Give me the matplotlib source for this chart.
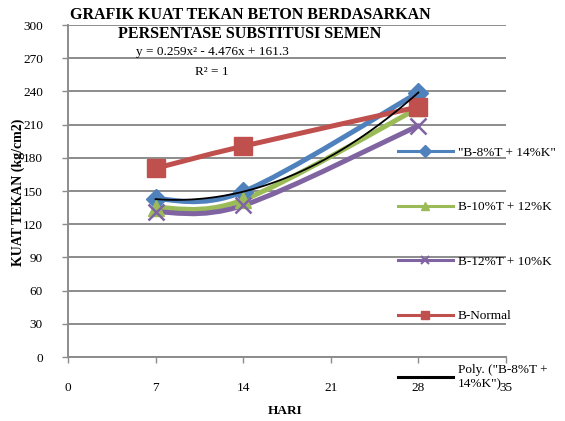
import numpy as np
import matplotlib

matplotlib.use("Agg")
import matplotlib.pyplot as plt
from matplotlib.lines import Line2D
from matplotlib.path import Path
from matplotlib.patches import PathPatch

# data
days = [7, 14, 28]
b8_t14_k = [142.7, 149.4, 239.0]
b10_t12_k = [135.0, 142.0, 225.0]
b12_t10_k = [131.0, 137.0, 209.0]
b_normal = [170.5, 190.5, 226.0]

series_labels = ['"B-8%T + 14%K"', "B-10%T + 12%K", "B-12%T + 10%K", "B-Normal"]
series_colors = ["#4F81BD", "#9BBB59", "#8064A2", "#C0504D"]
series_markers = ["D", "^", "x", "s"]
trend_label = 'Poly. ("B-8%T +\n14%K")'
trend_coef = [0.259, -4.476, 161.3]

x_ticks = [0, 7, 14, 21, 28, 35]
y_ticks = [0, 30, 60, 90, 120, 150, 180, 210, 240, 270, 300]

plt.rcParams["font.family"] = ["Liberation Serif", "DejaVu Serif"]


def smooth_path(xs, ys):
    # Excel-style smoothed line: cubic bezier through every point
    pts = np.column_stack([xs, ys]).astype(float)
    padded = np.vstack([pts[0], pts, pts[-1]])
    verts = [pts[0]]
    codes = [Path.MOVETO]
    for i in range(len(pts) - 1):
        p0, p1, p2, p3 = padded[i], padded[i + 1], padded[i + 2], padded[i + 3]
        verts += [p1 + (p2 - p0) / 6, p2 - (p3 - p1) / 6, p2]
        codes += [Path.CURVE4] * 3
    return Path(verts, codes)


fig = plt.figure(figsize=(5.65, 4.21), dpi=100)
ax = fig.add_axes([68 / 565, 1 - 357 / 421, 438 / 565, 332 / 421])

grid_color = "#8C8C8C"
ax.set_xlim(0, 35)
ax.set_ylim(0, 300)
ax.set_xticks(x_ticks)
ax.set_yticks(y_ticks)
ax.yaxis.grid(True, color=grid_color, linewidth=1.4)
ax.set_axisbelow(True)
for side in ("top", "right"):
    ax.spines[side].set_visible(False)
for side in ("left", "bottom"):
    ax.spines[side].set_color(grid_color)
    ax.spines[side].set_linewidth(1.4)
ax.tick_params(axis="x", colors=grid_color, length=4, width=1, pad=14, labelsize=9.5, labelcolor="black")
ax.tick_params(axis="y", colors=grid_color, length=4, width=1, pad=14, labelsize=9.5, labelcolor="black")

marker_sizes = {"D": 10, "^": 11, "x": 12, "s": 13}
handles = []
for ys, label, color, marker in zip(
    [b8_t14_k, b10_t12_k, b12_t10_k, b_normal], series_labels, series_colors, series_markers
):
    ax.add_patch(PathPatch(smooth_path(days, ys), fill=False, edgecolor=color,
                           linewidth=3.6, capstyle="round", joinstyle="round"))
    ax.plot(days, ys, linestyle="none", marker=marker, markersize=marker_sizes[marker],
            color=color, markeredgewidth=1.8 if marker == "x" else 1, zorder=3)
    handles.append(Line2D([], [], color=color, linewidth=2.2, marker=marker,
                          markersize=6, markeredgewidth=1.5 if marker == "x" else 1))

trend_x = np.linspace(days[0], days[-1], 100)
ax.plot(trend_x, np.polyval(trend_coef, trend_x), color="black", linewidth=1.3, zorder=4)
handles.append(Line2D([], [], color="black", linewidth=2.2))

fig.legend(handles, series_labels + [trend_label], loc="upper left",
           bbox_to_anchor=(391 / 565, 1 - 140 / 421), frameon=False,
           fontsize=9.5, handlelength=4.2, handletextpad=0.35,
           labelspacing=3.2, borderpad=0)

fig.text(250 / 565, 1 - 15 / 421, "GRAFIK KUAT TEKAN BETON BERDASARKAN",
         ha="center", va="center", fontsize=11.5, fontweight="bold")
fig.text(250 / 565, 1 - 34 / 421, "PERSENTASE SUBSTITUSI SEMEN",
         ha="center", va="center", fontsize=11.5, fontweight="bold")
fig.text(212 / 565, 1 - 52 / 421,
         "y = %.3fx² - %.3fx + %.1f" % (trend_coef[0], -trend_coef[1], trend_coef[2]),
         ha="center", va="center", fontsize=9.5)
fig.text(212 / 565, 1 - 72 / 421, "R² = 1", ha="center", va="center", fontsize=9.5)

fig.text(18 / 565, 1 - 192 / 421, "KUAT TEKAN (kg/cm2)", rotation=90,
         ha="center", va="center", fontsize=10, fontweight="bold")
fig.text(285 / 565, 1 - 411 / 421, "HARI", ha="center", va="center",
         fontsize=9.5, fontweight="bold")

fig.savefig("out.png", dpi=100)
